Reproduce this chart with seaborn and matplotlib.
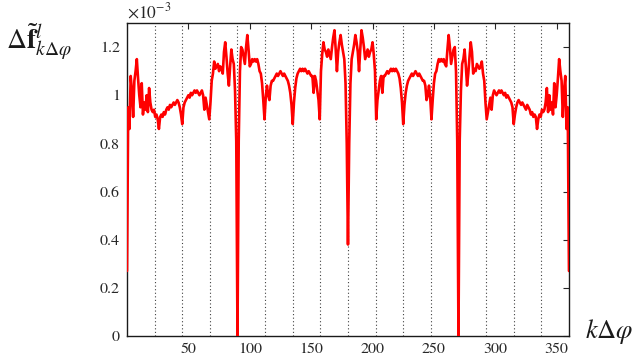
import numpy as np
import matplotlib
matplotlib.use("Agg")
import matplotlib.pyplot as plt
import seaborn as sns
import pandas as pd

# angle index k (degrees, k*Δφ)
angles = list(range(0, 361))

# values in units of 1e-3, k = 0..180
vals_left = [0.27, 0.95, 0.86, 1.08, 1.02, 0.91, 1.06, 1.10, 1.15, 1.07,
             1.00, 0.95, 1.05, 0.92, 0.97, 0.94, 1.00, 0.93, 1.03, 0.97,
             0.94, 0.93, 0.94, 0.91, 0.92, 0.90, 0.86, 0.91, 0.92, 0.91,
             0.93, 0.92, 0.94, 0.95, 0.94, 0.96, 0.95, 0.96, 0.97, 0.96,
             0.97, 0.98, 0.97, 0.95, 0.92, 0.88, 0.95, 0.97, 0.98, 0.99,
             1.00, 0.99, 1.01, 1.00, 1.01, 1.02, 1.01, 1.02, 1.01, 1.00,
             1.01, 1.02, 1.00, 0.94, 0.99, 0.96, 0.93, 0.90, 0.97, 1.06,
             1.09, 1.14, 1.11, 1.12, 1.13, 1.10, 1.12, 1.11, 1.09, 1.18,
             1.22, 1.16, 1.09, 1.04, 1.12, 1.19, 1.15, 1.13, 1.02, 0.81,
             0.00, 0.81, 1.10, 1.20, 1.19, 1.16, 1.13, 1.20, 1.25, 1.19,
             1.12, 1.13, 1.15, 1.14, 1.15, 1.14, 1.15, 1.13, 1.10, 1.09,
             1.05, 0.98, 0.90, 0.99, 1.04, 1.00, 0.98, 1.04, 1.06, 1.06,
             1.07, 1.08, 1.09, 1.08, 1.09, 1.10, 1.09, 1.08, 1.09, 1.08,
             1.07, 1.06, 1.04, 1.01, 0.96, 0.88, 0.97, 1.03, 1.07, 1.09,
             1.10, 1.11, 1.10, 1.11, 1.10, 1.11, 1.10, 1.09, 1.10, 1.09,
             1.08, 1.08, 1.01, 1.08, 1.06, 1.02, 0.98, 0.90, 1.10, 1.17,
             1.22, 1.19, 1.18, 1.16, 1.19, 1.17, 1.15, 1.20, 1.24, 1.27,
             1.19, 1.10, 1.18, 1.22, 1.25, 1.21, 1.18, 1.15, 1.05, 0.80,
             0.38]

# values in units of 1e-3, k = 181..360
vals_right = [0.80, 1.05, 1.15, 1.18, 1.21, 1.25, 1.22, 1.18, 1.10, 1.19,
              1.27, 1.24, 1.20, 1.15, 1.17, 1.19, 1.16, 1.18, 1.19, 1.22,
              1.17, 1.10, 0.90, 0.98, 1.02, 1.06, 1.08, 1.01, 1.08, 1.08,
              1.09, 1.10, 1.09, 1.10, 1.11, 1.10, 1.11, 1.10, 1.11, 1.10,
              1.09, 1.07, 1.03, 0.97, 0.88, 0.96, 1.01, 1.04, 1.06, 1.07,
              1.08, 1.09, 1.08, 1.09, 1.10, 1.09, 1.08, 1.09, 1.08, 1.07,
              1.06, 1.06, 1.04, 0.98, 1.00, 1.04, 0.99, 0.90, 0.98, 1.05,
              1.09, 1.10, 1.13, 1.15, 1.14, 1.15, 1.14, 1.15, 1.13, 1.12,
              1.19, 1.25, 1.20, 1.13, 1.16, 1.19, 1.20, 1.10, 0.81, 0.00,
              0.81, 1.02, 1.13, 1.15, 1.19, 1.12, 1.04, 1.09, 1.16, 1.22,
              1.18, 1.09, 1.11, 1.10, 1.13, 1.12, 1.11, 1.12, 1.14, 1.09,
              1.06, 0.97, 0.90, 0.93, 0.96, 0.99, 0.94, 1.00, 1.02, 1.01,
              1.00, 1.01, 1.02, 1.01, 1.02, 1.01, 1.00, 1.01, 0.99, 1.00,
              0.99, 0.98, 0.97, 0.95, 0.88, 0.92, 0.95, 0.97, 0.98, 0.97,
              0.96, 0.97, 0.96, 0.95, 0.94, 0.96, 0.95, 0.94, 0.92, 0.93,
              0.91, 0.92, 0.91, 0.86, 0.90, 0.92, 0.91, 0.94, 0.93, 0.94,
              0.97, 1.03, 0.93, 1.00, 0.94, 0.97, 0.92, 1.05, 0.95, 1.00,
              1.07, 1.15, 1.10, 1.06, 0.91, 1.02, 1.08, 0.86, 0.95, 0.27]

scale = 1e-3
grid_positions = [22.5, 45, 67.5, 90, 112.5, 135, 157.5, 180, 202.5,
                  225, 247.5, 270, 292.5, 315, 337.5]
xticks = [50, 100, 150, 200, 250, 300, 350]
yticks = [0, 0.2, 0.4, 0.6, 0.8, 1.0, 1.2]
ytick_labels = ["0", "0.2", "0.4", "0.6", "0.8", "1", "1.2"]

df = pd.DataFrame({"k": angles,
                   "v": np.array(vals_left + vals_right) * scale})

sns.set_style("white")
plt.rcParams["font.family"] = ["STIXGeneral", "DejaVu Serif"]
plt.rcParams["mathtext.fontset"] = "stix"

fig = plt.figure(figsize=(6.35, 3.63), dpi=100)
ax = fig.add_axes([0.2, 0.0744, 0.696, 0.8622])

for g in grid_positions:
    ax.axvline(g, color="0.25", linestyle=(0, (1, 2.2)), linewidth=0.8, zorder=1)

sns.lineplot(data=df, x="k", y="v", ax=ax, color="#ff0000", linewidth=1.9,
             zorder=3, estimator=None)

ax.set_xlim(0, 360)
ax.set_ylim(0, 1.3e-3)
ax.set_xticks(xticks)
ax.set_xticklabels([str(t) for t in xticks])
ax.set_yticks([t * scale for t in yticks])
ax.set_yticklabels(ytick_labels)
ax.set_xlabel("")
ax.set_ylabel("")
ax.tick_params(direction="in", top=True, right=True, length=4, width=0.8,
               labelsize=11.5, colors="0.15", pad=5)
for s in ax.spines.values():
    s.set_color("0.1")
    s.set_linewidth(1.0)

fig.text(0.2, 0.995, r"$\times10^{-3}$", fontsize=12.5, ha="left", va="top",
         color="0.15")
fig.text(0.01, 0.885, r"$\Delta\tilde{\mathbf{f}}^{l}_{k\Delta\varphi}$",
         fontsize=20, ha="left", va="center", color="0.1")
fig.text(0.998, 0.087, r"$k\Delta\varphi$", fontsize=19, ha="right",
         va="center", color="0.1")

fig.savefig("out.png", dpi=100)
